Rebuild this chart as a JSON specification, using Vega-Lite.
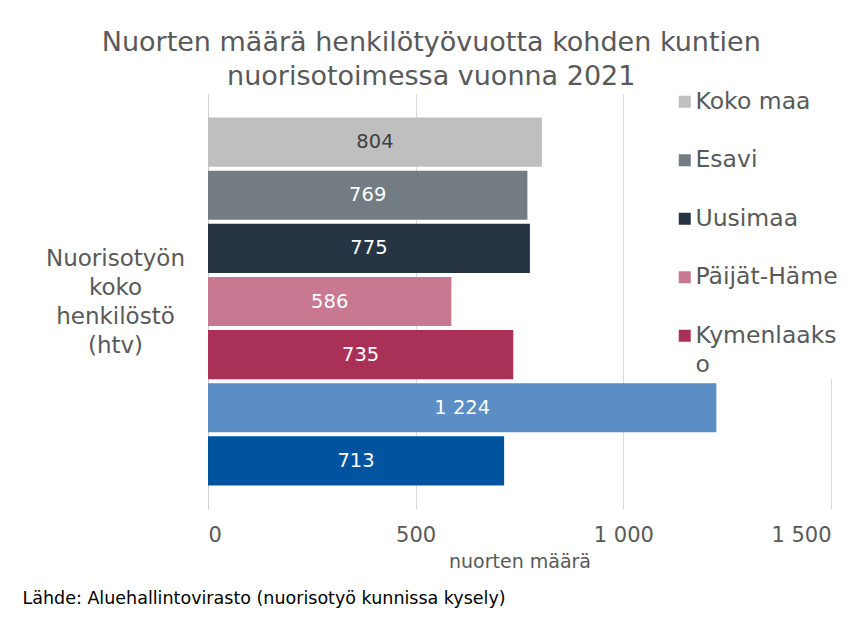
{
  "$schema": "https://vega.github.io/schema/vega-lite/v6.json",
  "padding": {"top": 29, "left": 22, "right": 5, "bottom": 5},
  "background": "white",
  "title": {
    "text": ["Nuorten määrä henkilötyövuotta kohden kuntien", "nuorisotoimessa vuonna 2021"],
    "fontSize": 27,
    "fontWeight": "normal",
    "color": "#595959",
    "lineHeight": 34,
    "anchor": "middle",
    "frame": "bounds",
    "offset": -3
  },
  "vconcat": [
    {
      "width": 623,
      "height": 415,
      "title": {
        "text": "Lähde: Aluehallintovirasto (nuorisotyö kunnissa kysely)",
        "orient": "bottom",
        "anchor": "start",
        "frame": "bounds",
        "fontSize": 17.5,
        "fontWeight": "normal",
        "color": "#000000",
        "offset": 19,
        "dx": -23
      },
      "data": {
        "values": [
          {"kategoria": "Nuorisotyön koko henkilöstö (htv)", "alue": "Koko maa", "nuoret": 804},
          {"kategoria": "Nuorisotyön koko henkilöstö (htv)", "alue": "Esavi", "nuoret": 769},
          {"kategoria": "Nuorisotyön koko henkilöstö (htv)", "alue": "Uusimaa", "nuoret": 775},
          {"kategoria": "Nuorisotyön koko henkilöstö (htv)", "alue": "Päijät-Häme", "nuoret": 586},
          {"kategoria": "Nuorisotyön koko henkilöstö (htv)", "alue": "Kymenlaakso", "nuoret": 735},
          {"kategoria": "Nuorisotyön koko henkilöstö (htv)", "alue": "Etelä-Karjala", "nuoret": 1224},
          {"kategoria": "Nuorisotyön koko henkilöstö (htv)", "alue": "Kanta-Häme", "nuoret": 713}
        ]
      },
      "encoding": {
        "y": {
          "field": "kategoria",
          "type": "nominal",
          "scale": {"paddingInner": 0, "paddingOuter": 0.058},
          "axis": {
            "title": null,
            "labelExpr": "split(datum.label, ' ')",
            "labelFontSize": 23,
            "labelColor": "#595959",
            "labelLineHeight": 29,
            "labelAlign": "center",
            "labelBaseline": "middle",
            "labelPadding": 93,
            "labelOffset": -43,
            "labelLimit": 400,
            "ticks": false,
            "domain": true,
            "domainColor": "#d0d0d0",
            "grid": false
          }
        },
        "yOffset": {
          "field": "alue",
          "type": "nominal",
          "sort": ["Koko maa", "Esavi", "Uusimaa", "Päijät-Häme", "Kymenlaakso", "Etelä-Karjala", "Kanta-Häme"],
          "scale": {"paddingInner": 0.0755, "paddingOuter": 0.0377}
        }
      },
      "layer": [
        {
          "mark": {"type": "bar"},
          "encoding": {
            "x": {
              "field": "nuoret",
              "type": "quantitative",
              "scale": {"domain": [0, 1500], "nice": false},
              "axis": {
                "title": "nuorten määrä",
                "titleFontSize": 19,
                "titleFontWeight": "normal",
                "titleColor": "#595959",
                "titlePadding": 7,
                "values": [0, 500, 1000, 1500],
                "format": ",d",
                "labelFontSize": 21,
                "labelColor": "#595959",
                "labelPadding": 15,
                "ticks": false,
                "domain": false,
                "grid": true,
                "gridColor": "#d9d9d9"
              }
            },
            "color": {
              "field": "alue",
              "type": "nominal",
              "scale": {
                "domain": ["Koko maa", "Esavi", "Uusimaa", "Päijät-Häme", "Kymenlaakso", "Etelä-Karjala", "Kanta-Häme"],
                "range": ["#bfbfbf", "#737b83", "#263444", "#c87890", "#a93158", "#5b8ec4", "#00539f"]
              },
              "legend": {
                "title": null,
                "orient": "none",
                "legendX": 463,
                "legendY": -6,
                "values": ["Koko maa", "Esavi", "Uusimaa", "Päijät-Häme", "Kymenlaakso"],
                "labelExpr": "datum.label == 'Kymenlaakso' ? ['Kymenlaaks', 'o'] : datum.label",
                "symbolType": "square",
                "symbolSize": 144,
                "symbolStrokeWidth": 0,
                "labelFontSize": 23.5,
                "labelColor": "#595959",
                "labelOffset": -1,
                "labelLimit": 300,
                "rowPadding": 33.5,
                "padding": 2,
                "fillColor": "white"
              }
            }
          }
        },
        {
          "transform": [{"calculate": "datum.nuoret / 2", "as": "keskikohta"}],
          "mark": {"type": "text", "fontSize": 19.5, "align": "center", "baseline": "middle"},
          "encoding": {
            "x": {"field": "keskikohta", "type": "quantitative"},
            "text": {"field": "nuoret", "type": "quantitative", "format": ",d"},
            "color": {
              "condition": {"test": "datum.alue == 'Koko maa'", "value": "#404040"},
              "value": "white"
            }
          }
        }
      ]
    }
  ],
  "config": {
    "font": "DejaVu Sans",
    "view": {"stroke": null},
    "style": {"guide-label": {"lineHeight": 29}},
    "locale": {
      "number": {"decimal": ",", "thousands": " ", "grouping": [3], "currency": ["", " €"]}
    }
  }
}
